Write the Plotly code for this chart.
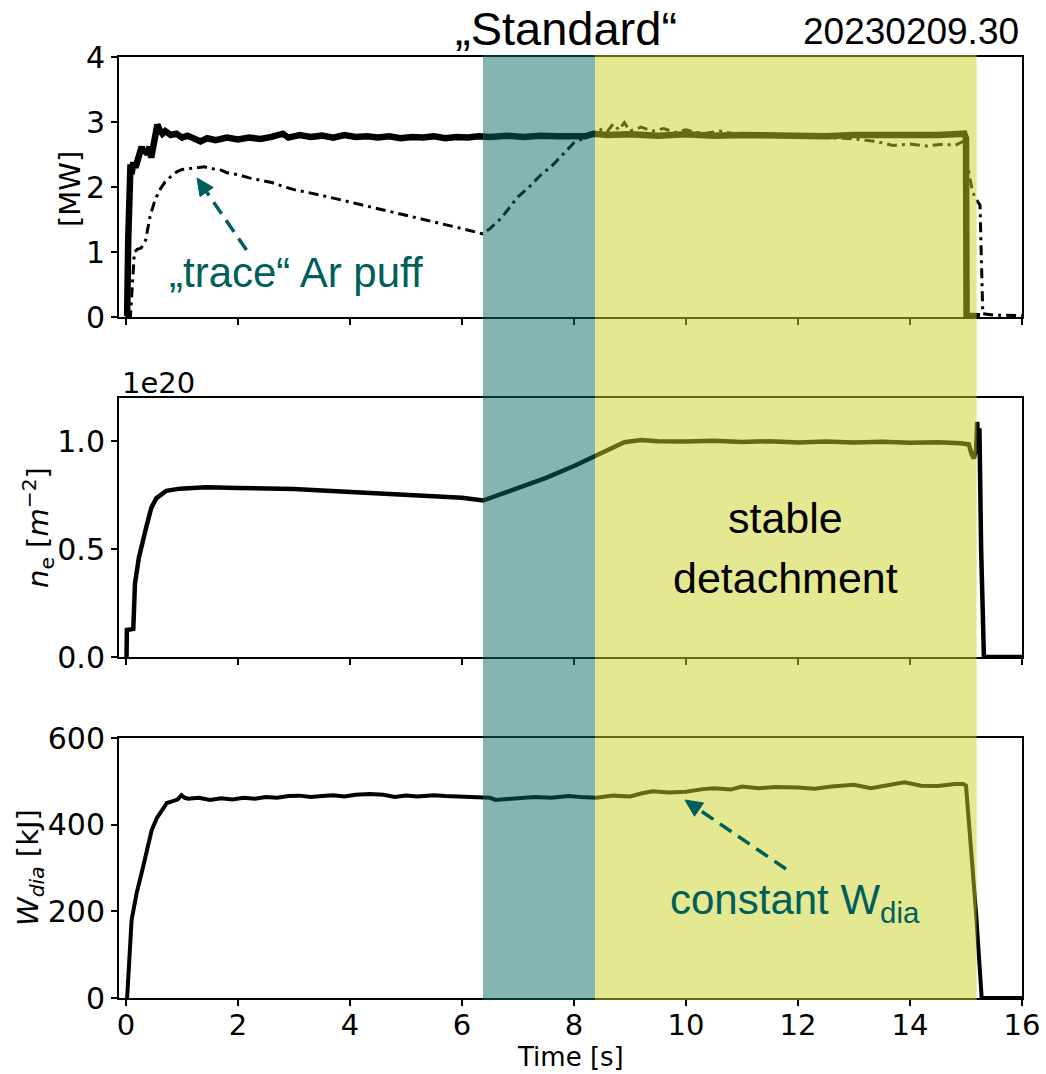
import plotly.graph_objects as go

# ---------------- data ----------------
t_ecrh = [0.00, 0.02, 0.04, 0.05, 0.06, 0.07, 0.08, 0.10, 0.13, 0.17, 0.20, 0.24, 0.28, 0.31, 0.34, 0.38,
          0.42, 0.45, 0.48, 0.52, 0.56, 0.60, 0.65, 0.70, 0.80, 0.90, 1.00, 1.10, 1.20, 1.33, 1.45, 1.60,
          1.80, 2.00, 2.20, 2.40, 2.60, 2.80, 2.90, 3.10, 3.30, 3.50, 3.70, 3.90, 4.10, 4.30, 4.50, 4.70,
          4.90, 5.10, 5.30, 5.50, 5.70, 5.90, 6.10, 6.30, 6.50, 6.80, 7.10, 7.40, 7.70, 8.00, 8.20, 8.35,
          8.60, 9.00, 9.50, 10.0, 10.5, 11.0, 11.5, 12.0, 12.5, 13.0, 13.5, 14.0, 14.5, 14.9, 14.97, 15.00,
          15.01, 15.25]
p_ecrh = [0.00, 0.02, 1.20, 2.10, 2.30, 2.15, 2.35, 2.20, 2.38, 2.30, 2.40, 2.50, 2.62, 2.52, 2.58, 2.50,
          2.62, 2.45, 2.60, 2.85, 2.96, 2.88, 2.82, 2.86, 2.80, 2.82, 2.76, 2.79, 2.74, 2.70, 2.75, 2.72,
          2.76, 2.73, 2.76, 2.74, 2.77, 2.82, 2.76, 2.80, 2.77, 2.79, 2.76, 2.80, 2.77, 2.78, 2.76, 2.78,
          2.75, 2.77, 2.76, 2.78, 2.75, 2.77, 2.76, 2.78, 2.77, 2.79, 2.77, 2.79, 2.78, 2.79, 2.78, 2.82,
          2.80, 2.81, 2.79, 2.81, 2.79, 2.80, 2.79, 2.80, 2.78, 2.80, 2.79, 2.80, 2.80, 2.80, 2.82, 2.75,
          0.02, 0.01]

t_prad = [0.00, 0.08, 0.10, 0.12, 0.15, 0.20, 0.27, 0.35, 0.43, 0.50, 0.55, 0.62, 0.70, 0.80, 0.90, 1.00,
          1.10, 1.20, 1.30, 1.40, 1.55, 1.70, 1.80, 2.00, 2.20, 2.40, 2.60, 2.80, 3.00, 3.50, 4.00, 4.50,
          5.00, 5.50, 6.00, 6.37, 6.50, 6.70, 6.90, 7.00, 7.20, 7.40, 7.60, 7.80, 8.00, 8.20, 8.40, 8.50,
          8.60, 8.70, 8.80, 8.90, 9.00, 9.20, 9.40, 9.60, 9.80, 10.0, 10.3, 10.6, 11.0, 11.5, 12.0, 12.5,
          13.0, 13.4, 13.7, 14.0, 14.3, 14.6, 14.8, 14.95, 15.00, 15.05, 15.10, 15.15, 15.20, 15.25, 15.30,
          15.50, 16.00]
p_rad = [0.00, 0.02, 0.30, 0.62, 1.00, 1.04, 1.06, 1.18, 1.55, 1.75, 1.86, 1.98, 2.08, 2.16, 2.23, 2.27,
         2.28, 2.30, 2.31, 2.31, 2.28, 2.26, 2.22, 2.19, 2.14, 2.10, 2.07, 2.01, 1.96, 1.87, 1.77, 1.67,
         1.57, 1.47, 1.36, 1.28, 1.36, 1.52, 1.75, 1.85, 2.00, 2.18, 2.32, 2.50, 2.68, 2.76, 2.82, 2.90,
         2.86, 2.97, 2.88, 2.99, 2.86, 2.92, 2.86, 2.90, 2.84, 2.88, 2.82, 2.86, 2.80, 2.82, 2.78, 2.76,
         2.74, 2.70, 2.64, 2.66, 2.63, 2.66, 2.64, 2.70, 2.45, 2.20, 2.00, 1.85, 1.78, 1.72, 0.05,
         0.03, 0.02]

t_ne = [0.00, 0.01, 0.015, 0.13, 0.16, 0.23, 0.36, 0.45, 0.54, 0.72, 0.96, 1.43, 2.00, 2.50, 3.00, 3.50,
        4.00, 4.50, 5.00, 5.50, 6.00, 6.375, 6.70, 7.00, 7.50, 8.00, 8.375, 8.60, 8.90, 9.20, 9.50, 10.0,
        10.5, 11.0, 11.5, 12.0, 12.5, 13.0, 13.5, 14.0, 14.5, 14.9, 15.05, 15.10, 15.14, 15.18, 15.20,
        15.22, 15.24, 15.27, 15.32, 16.00]
n_e = [0.00, 0.00, 0.125, 0.13, 0.34, 0.46, 0.60, 0.69, 0.735, 0.77, 0.78, 0.786, 0.783, 0.782, 0.778, 0.772,
       0.765, 0.758, 0.752, 0.745, 0.738, 0.725, 0.755, 0.78, 0.83, 0.885, 0.93, 0.96, 0.995, 1.005, 1.00, 0.998,
       1.002, 0.996, 1.00, 0.994, 0.998, 0.994, 0.997, 0.993, 0.995, 0.99, 0.985, 0.94, 0.92, 0.96, 1.09,
       0.95, 1.06, 0.50, 0.00, 0.00]

t_w = [0.00, 0.02, 0.10, 0.19, 0.31, 0.46, 0.55, 0.61, 0.73, 0.85, 0.92, 0.99, 1.05, 1.11, 1.30, 1.50,
       1.70, 1.90, 2.10, 2.30, 2.50, 2.70, 2.90, 3.10, 3.30, 3.50, 3.70, 3.90, 4.10, 4.35, 4.60, 4.80,
       5.00, 5.20, 5.50, 5.70, 6.00, 6.30, 6.50, 6.60, 6.80, 7.00, 7.30, 7.60, 7.90, 8.20, 8.40, 8.70,
       9.00, 9.20, 9.40, 9.70, 10.0, 10.3, 10.5, 10.8, 11.0, 11.3, 11.6, 12.0, 12.3, 12.6, 13.0, 13.3,
       13.6, 13.9, 14.2, 14.5, 14.8, 14.95, 15.00, 15.18, 15.28, 16.00]
w_dia = [0, 0, 180, 242, 305, 388, 415, 427, 450, 455, 458, 468, 462, 460, 462, 457,
         461, 458, 462, 460, 464, 462, 466, 467, 464, 466, 468, 465, 469, 471, 469, 464,
         467, 465, 468, 466, 465, 464, 462, 457, 459, 461, 464, 462, 466, 463, 462, 467,
         465, 472, 477, 474, 476, 482, 484, 481, 488, 484, 487, 486, 483, 488, 492, 484,
         490, 498, 490, 489, 494, 494, 490, 196, 0, 0]

x_ticks = [0, 2, 4, 6, 8, 10, 12, 14, 16]
phase_standard = (6.375, 8.375)
phase_detached = (8.375, 15.19)

# ---------------- figure ----------------
W, H = 1046, 1074
ML, MR, MT, MB = 119, 24, 57, 76
PW, PH = W - ML - MR, H - MT - MB
XR = [-0.125, 16]
YR1, YR2, YR3 = [0, 4], [0, 1.2], [0, 600]
P1, P2, P3 = (317, 57), (657, 398), (998, 738)   # (bottom px, top px) of each panel


def px(xp):
    return (xp - ML) / PW


def py(yp):
    return (H - MB - yp) / PH


fig = go.Figure()
fig.add_trace(go.Scatter(x=t_ecrh, y=p_ecrh, mode="lines", line=dict(color="black", width=6.5),
                         xaxis="x", yaxis="y", showlegend=False))
fig.add_trace(go.Scatter(x=t_prad, y=p_rad, mode="lines",
                         line=dict(color="black", width=3, dash="10px,5px,3px,5px"),
                         xaxis="x", yaxis="y", showlegend=False))
fig.add_trace(go.Scatter(x=t_ne, y=n_e, mode="lines", line=dict(color="black", width=4.5),
                         xaxis="x2", yaxis="y2", showlegend=False))
fig.add_trace(go.Scatter(x=t_w, y=w_dia, mode="lines", line=dict(color="black", width=4),
                         xaxis="x3", yaxis="y3", showlegend=False))

tickfont = dict(family="DejaVu Sans", size=30, color="black")
xtickfont = dict(family="DejaVu Sans", size=29, color="black")
xcommon = dict(range=XR, tickvals=x_ticks, ticks="outside", ticklen=6, tickwidth=1.5,
               showline=True, mirror=True, linecolor="black", linewidth=2, showgrid=False,
               zeroline=False, tickfont=xtickfont, tickcolor="black", automargin=False)
ycommon = dict(ticks="outside", ticklen=6, tickwidth=1.5, showline=True, mirror=True,
               linecolor="black", linewidth=2, showgrid=False, zeroline=False, tickfont=tickfont,
               tickcolor="black", automargin=False)

fig.update_layout(
    width=W, height=H, margin=dict(l=ML, r=MR, t=MT, b=MB, autoexpand=False),
    paper_bgcolor="white", plot_bgcolor="white",
    xaxis=dict(**xcommon, anchor="y", showticklabels=False),
    xaxis2=dict(**xcommon, anchor="y2", matches="x", showticklabels=False),
    xaxis3=dict(**xcommon, anchor="y3", matches="x", ticklabelstandoff=-6),
    yaxis=dict(**ycommon, domain=[py(P1[0]), py(P1[1])], range=YR1, tickvals=[0, 1, 2, 3, 4]),
    yaxis2=dict(**ycommon, domain=[py(P2[0]), py(P2[1])], range=YR2, tickvals=[0, 0.5, 1.0],
                tickformat=".1f"),
    yaxis3=dict(**ycommon, domain=[py(P3[0]), py(P3[1])], range=YR3, tickvals=[0, 200, 400, 600]),
)

# shaded phases (drawn above the traces)
fig.add_shape(type="rect", xref="x", yref="paper", x0=phase_standard[0], x1=phase_standard[1],
              y0=py(1000), y1=py(55), fillcolor="rgba(9,107,101,0.5)", line=dict(width=0),
              layer="above")
fig.add_shape(type="rect", xref="x", yref="paper", x0=phase_detached[0], x1=phase_detached[1],
              y0=py(1000), y1=py(55), fillcolor="rgba(200,210,35,0.5)", line=dict(width=0),
              layer="above")

teal = "#005f5a"
arial = "Liberation Sans, Arial"

# dashed arrows: pixel geometry -> data coords of the given panel
xs = PW / (XR[1] - XR[0])


def to_data(xp, yp, panel, yr):
    ys = (panel[0] - panel[1]) / (yr[1] - yr[0])
    return XR[0] + (xp - ML) / xs, yr[0] + (panel[0] - yp) / ys


def dashed_arrow(tail, tip, xref, yref, panel, yr, head_len=17, head_half=8):
    dx, dy = tip[0] - tail[0], tip[1] - tail[1]
    n = (dx * dx + dy * dy) ** 0.5
    ux, uy = dx / n, dy / n
    bx, by = tip[0] - ux * head_len, tip[1] - uy * head_len
    x0, y0 = to_data(tail[0], tail[1], panel, yr)
    x1, y1 = to_data(bx, by, panel, yr)
    fig.add_shape(type="line", xref=xref, yref=yref, x0=x0, y0=y0, x1=x1, y1=y1,
                  line=dict(color=teal, width=3.5, dash="14px,8px"))
    pts = [tip, (bx - uy * head_half, by + ux * head_half), (bx + uy * head_half, by - ux * head_half)]
    dpts = [to_data(p[0], p[1], panel, yr) for p in pts]
    path = "M {} {} L {} {} L {} {} Z".format(*[v for p in dpts for v in p])
    fig.add_shape(type="path", xref=xref, yref=yref, path=path, fillcolor=teal,
                  line=dict(color=teal, width=1))


dashed_arrow((246.5, 250), (197, 178), "x", "y", P1, YR1)
dashed_arrow((786, 869), (685, 800), "x3", "y3", P3, YR3)


def label(text, xp, yp, size, color="black", family=arial, xanchor="center", angle=0):
    fig.add_annotation(xref="paper", yref="paper", x=px(xp), y=py(yp), text=text, showarrow=False,
                       xanchor=xanchor, yanchor="middle", textangle=angle,
                       font=dict(family=family, size=size, color=color))


label("„Standard“", 566, 28, 47)
label("20230209.30", 1021, 31, 37, xanchor="right")
label("„trace“ Ar puff", 296, 272, 42, color=teal)
label("stable", 785, 518, 43)
label("detachment", 785, 578, 43)
label("constant W<sub>dia</sub>", 668, 902, 42, color=teal, xanchor="left")
label("1e20", 120, 383, 29, family="DejaVu Sans", xanchor="left")
label("[MW]", 70, 189, 29, family="DejaVu Sans", angle=-90)
label("<i>n</i><sub>e</sub> [<i>m</i><sup>−2</sup>]", 38, 528, 29, family="DejaVu Sans", angle=-90)
label("<i>W<sub>dia</sub></i> [kJ]", 30, 868, 29, family="DejaVu Sans", angle=-90)
label("Time [s]", 570, 1057, 26, family="DejaVu Sans")

fig.write_html("out.html")
